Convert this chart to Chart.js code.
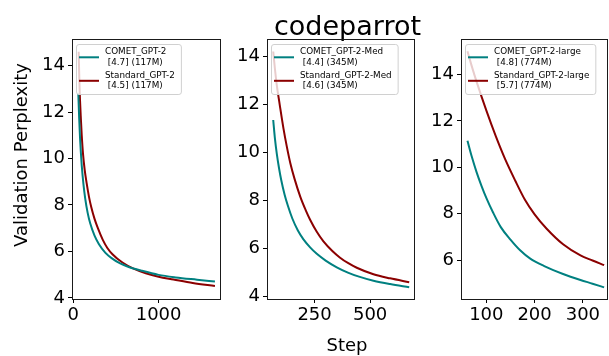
<!DOCTYPE html>
<html>
<head>
<meta charset="utf-8">
<script src="https://cdn.jsdelivr.net/npm/chart.js@4"></script>
<style>
  html, body { margin: 0; padding: 0; background: #fff; }
  #wrap { position: relative; width: 609px; height: 356px; }
  #wrap canvas { position: absolute; left: 0; top: 0; }
</style>
</head>
<body>
<div id="wrap">
  <canvas id="c1" width="609" height="356"></canvas>
  <canvas id="c2" width="609" height="356"></canvas>
  <canvas id="c3" width="609" height="356"></canvas>
</div>
<script>
// codeparrot validation perplexity
const steps1Comet = [60, 70, 80, 90, 100, 120, 140, 170, 200, 250, 300, 375, 450, 550, 650, 800, 1000, 1200, 1450, 1660]
const ppl1Comet   = [12.8, 11.75, 10.9, 10.25, 9.7, 8.9, 8.3, 7.65, 7.2, 6.68, 6.32, 5.95, 5.71, 5.48, 5.33, 5.17, 4.99, 4.88, 4.78, 4.7]
const steps1Std   = [64, 72, 80, 90, 100, 115, 135, 157, 185, 212, 250, 289, 344, 400, 460, 577, 700, 850, 1000, 1175, 1400, 1660]
const ppl1Std     = [14.6, 13.4, 12.5, 11.7, 11.0, 10.2, 9.5, 8.95, 8.35, 7.9, 7.4, 7.0, 6.52, 6.15, 5.88, 5.52, 5.27, 5.06, 4.91, 4.79, 4.64, 4.51]

const steps2Comet = [64, 72, 80, 90, 100, 115, 130, 150, 175, 200, 230, 260, 300, 350, 400, 450, 515, 590, 676]
const ppl2Comet   = [11.35, 10.55, 9.95, 9.35, 8.85, 8.25, 7.78, 7.25, 6.75, 6.38, 6.05, 5.78, 5.5, 5.22, 5.0, 4.83, 4.66, 4.52, 4.39]
const steps2Std   = [64, 72, 80, 93, 110, 125, 141, 160, 186, 210, 230, 260, 290, 330, 365, 400, 440, 515, 590, 676]
const ppl2Std     = [14.2, 13.45, 12.8, 12.0, 11.0, 10.25, 9.55, 8.9, 8.15, 7.6, 7.2, 6.7, 6.3, 5.9, 5.62, 5.4, 5.2, 4.93, 4.76, 4.6]

const steps3Comet = [61, 70, 80, 90, 100, 114, 130, 150, 170, 191, 220, 259, 295, 320, 344]
const ppl3Comet   = [11.14, 10.45, 9.78, 9.2, 8.68, 8.05, 7.42, 6.88, 6.42, 6.06, 5.74, 5.4, 5.14, 4.98, 4.82]
const steps3Std   = [61, 70, 80, 100, 120, 139, 160, 180, 200, 225, 259, 295, 320, 344]
const ppl3Std     = [15.0, 14.35, 13.68, 12.45, 11.32, 10.35, 9.42, 8.6, 7.97, 7.35, 6.68, 6.2, 5.98, 5.78]

const labels1 = ['COMET_GPT-2\n [4.7] (117M)', 'Standard_GPT-2\n [4.5] (117M)']
const labels2 = ['COMET_GPT-2-Med\n [4.4] (345M)', 'Standard_GPT-2-Med\n [4.6] (345M)']
const labels3 = ['COMET_GPT-2-large\n [4.8] (774M)', 'Standard_GPT-2-large\n [5.7] (774M)']

const xTicks1 = [0, 1000]
const xTicks2 = [250, 500]
const xTicks3 = [100, 200, 300]
const yTicks1 = [4, 6, 8, 10, 12, 14]
const yTicks2 = [4, 6, 8, 10, 12, 14]
const yTicks3 = [6, 8, 10, 12, 14]

const FONT = "'DejaVu Sans', sans-serif"
const TEAL = '#008080'
const DARKRED = '#8b0000'

const pairs = (xs, ys) => xs.map((x, i) => ({x: x, y: ys[i]}))

const frame = {
  id: 'frame',
  afterDatasetsDraw(chart){
    const {ctx, chartArea:{left, right, top, bottom}} = chart
    ctx.save()
    ctx.strokeStyle = '#1a1a1a'
    ctx.lineWidth = 1
    ctx.strokeRect(Math.round(left) + 0.5, Math.round(top) + 0.5, Math.round(right - left) - 1, Math.round(bottom - top))
    ctx.restore()
  }
}

const boxLegend = {
  id: 'boxLegend',
  afterDatasetsDraw(chart){
    const {ctx, chartArea:{left, top}} = chart
    const sets = chart.data.datasets
    ctx.save()
    ctx.font = `8.8px ${FONT}`
    let w = 0
    sets.forEach(ds => ds.label.split('\n').forEach(t => { w = Math.max(w, ctx.measureText(t).width) }))
    const bx = left + 4, by = top + 5, bw = 33 + w + 2, bh = 50
    ctx.beginPath()
    ctx.roundRect(bx + 0.5, by + 0.5, bw, bh, 2.5)
    ctx.fillStyle = 'rgba(255,255,255,0.8)'
    ctx.fill()
    ctx.strokeStyle = '#d0d0d0'
    ctx.lineWidth = 1
    ctx.stroke()
    sets.forEach((ds, i) => {
      const y0 = top + 13 + i * 23.5
      ctx.strokeStyle = ds.borderColor
      ctx.lineWidth = 2
      ctx.beginPath()
      ctx.moveTo(left + 7, y0 + 5.3)
      ctx.lineTo(left + 27, y0 + 5.3)
      ctx.stroke()
      ctx.fillStyle = '#000'
      ctx.textBaseline = 'middle'
      ctx.textAlign = 'left'
      ds.label.split('\n').forEach((t, j) => ctx.fillText(t, left + 33, y0 + j * 10.6))
    })
    ctx.restore()
  }
}

const figText = {
  id: 'figText',
  afterDraw(chart){
    const ctx = chart.ctx
    ctx.save()
    ctx.fillStyle = '#000'
    ctx.textAlign = 'center'
    ctx.textBaseline = 'alphabetic'
    ctx.font = `27px ${FONT}`
    ctx.fillText('codeparrot', 347.5, 35)
    ctx.font = `18px ${FONT}`
    ctx.fillText('Step', 347, 351)
    ctx.translate(27, 155)
    ctx.rotate(-Math.PI / 2)
    ctx.fillText('Validation Perplexity', 0, 0)
    ctx.restore()
  }
}

function panel(id, area, xr, yr, xt, yt, labels, comet, std, extra){
  const fixTicks = vals => scale => { scale.ticks = vals.map(v => ({value: v})) }
  const tickFont = {family: FONT, size: 18}
  new Chart(document.getElementById(id), {
    type: 'line',
    data: {
      datasets: [
        {label: labels[0], data: comet, borderColor: TEAL, backgroundColor: TEAL,
         borderWidth: 2, pointRadius: 0, cubicInterpolationMode: 'monotone'},
        {label: labels[1], data: std, borderColor: DARKRED, backgroundColor: DARKRED,
         borderWidth: 2, pointRadius: 0, cubicInterpolationMode: 'monotone'}
      ]
    },
    options: {
      responsive: false,
      animation: false,
      events: [],
      layout: {padding: {left: area.left - 40, right: 609 - area.right, top: area.top, bottom: 356 - area.bottom - 30}},
      plugins: {legend: {display: false}, tooltip: {enabled: false}},
      scales: {
        x: {
          type: 'linear', min: xr[0], max: xr[1],
          afterBuildTicks: fixTicks(xt),
          afterFit(scale){ scale.height = 30 },
          border: {display: false},
          grid: {drawOnChartArea: false, drawTicks: true, tickLength: 4, color: '#000'},
          ticks: {font: tickFont, color: '#000', padding: 2, maxRotation: 0, autoSkip: false,
                  callback: v => String(v)}
        },
        y: {
          type: 'linear', min: yr[0], max: yr[1],
          afterBuildTicks: fixTicks(yt),
          afterFit(scale){ scale.width = 40 },
          border: {display: false},
          grid: {drawOnChartArea: false, drawTicks: true, tickLength: 4, color: '#000'},
          ticks: {font: tickFont, color: '#000', padding: 3, autoSkip: false,
                  callback: v => String(v)}
        }
      }
    },
    plugins: [frame, boxLegend].concat(extra || [])
  })
}

panel('c1', {left: 72, right: 221, top: 39, bottom: 299}, [-14, 1731], [3.95, 15.15], xTicks1, yTicks1, labels1,
  pairs(steps1Comet, ppl1Comet), pairs(steps1Std, ppl1Std), [figText])
panel('c2', {left: 267, right: 415, top: 39, bottom: 299}, [36, 702], [3.9, 14.72], xTicks2, yTicks2, labels2,
  pairs(steps2Comet, ppl2Comet), pairs(steps2Std, ppl2Std))
panel('c3', {left: 461, right: 608, top: 39, bottom: 299}, [47.6, 352], [4.32, 15.53], xTicks3, yTicks3, labels3,
  pairs(steps3Comet, ppl3Comet), pairs(steps3Std, ppl3Std))
</script>
</body>
</html>
